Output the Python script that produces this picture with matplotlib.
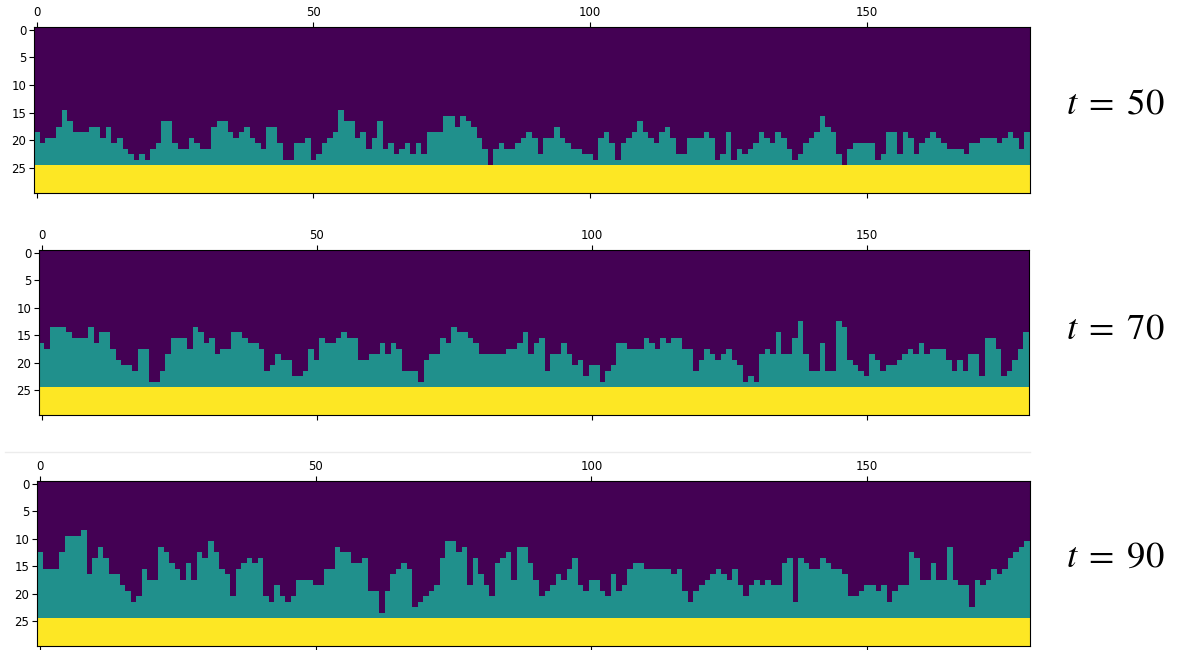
import numpy as np
import matplotlib
matplotlib.use("Agg")
import matplotlib.pyplot as plt
from matplotlib.lines import Line2D

# top row of the teal layer in each of the 180 columns (rows 25-29 are the yellow base)
top_t50 = [19,21,20,20,18,15,17,19,19,19, 18,18,20,18,21,20,22,23,24,23,
           24,22,21,17,17,21,22,22,20,21, 22,22,18,17,17,19,20,19,18,20,
           21,22,18,18,21,24,24,21,21,20, 24,23,21,20,19,15,17,17,20,19,
           22,20,17,22,21,23,22,21,23,21, 23,19,19,19,16,16,18,16,17,18,
           20,22,25,22,21,22,22,21,20,19, 20,23,20,20,18,20,21,22,22,23,
           23,24,20,19,21,24,21,20,19,17, 19,20,21,19,18,20,23,23,20,20,
           20,19,20,24,23,19,24,22,23,22, 21,19,20,21,19,20,22,24,23,21,
           20,19,16,18,19,23,25,22,21,21, 21,21,24,23,19,19,23,19,20,23,
           21,20,19,20,21,22,22,22,23,21, 21,20,20,20,21,20,19,20,22,19]

top_t70 = [17,18,14,14,14,15,16,16,16,14, 17,15,15,18,20,21,21,22,18,18,
           24,24,22,19,16,16,16,18,14,15, 17,16,19,18,18,15,15,16,17,17,
           18,22,21,19,20,20,23,23,22,18, 20,16,17,17,16,15,16,16,20,20,
           19,19,17,19,17,18,22,22,22,24, 20,19,19,16,17,14,15,15,16,17,
           19,19,19,19,19,18,18,17,15,19, 17,16,22,19,19,17,19,21,20,23,
           21,21,24,22,21,17,17,18,18,18, 16,17,18,16,17,16,16,18,18,22,
           20,18,19,20,19,18,20,21,24,23, 24,19,18,19,15,19,19,16,13,19,
           22,22,17,22,22,13,14,20,21,22, 23,19,20,22,21,21,20,19,18,19,
           17,19,18,18,18,20,22,20,22,19, 19,23,16,16,18,23,22,20,18,15]

top_t90 = [13,16,16,16,13,10,10,10,9,17, 14,12,14,17,17,19,20,22,21,16,
           18,18,12,13,15,16,18,15,18,13, 14,11,13,16,17,21,16,15,14,15,
           14,21,22,19,21,22,21,18,18,18, 19,19,16,16,12,13,13,15,15,14,
           20,20,24,20,17,16,15,16,23,22, 21,20,19,14,11,11,13,12,19,14,
           17,19,21,15,14,13,18,12,12,15, 18,21,20,19,17,18,16,14,19,20,
           18,18,20,21,17,20,19,16,15,15, 16,16,16,16,16,17,16,20,22,20,
           19,18,17,16,17,18,16,19,21,19, 18,19,18,19,19,15,14,22,14,15,
           16,16,14,15,16,16,17,21,21,20, 19,19,20,19,22,20,19,19,13,14,
           18,18,15,18,18,12,18,19,19,23, 18,19,18,16,17,16,14,13,12,11]

labels = ["50", "70", "90"]
n_rows = 30
base_row = 25

W, H = 1190, 650
fig = plt.figure(figsize=(W / 100, H / 100), dpi=100)

# faint screenshot edge above the last panel
fig.add_artist(Line2D([5 / W, 1030 / W], [1 - 452 / H, 1 - 452 / H],
                      color="#ececec", lw=1.0))

# pixel boxes (left, top, right, bottom)
boxes = [(34, 27, 1030, 193), (39, 250, 1029, 415), (37, 481, 1030, 646)]
label_y = [103, 328, 556]

for tops, lab, box, ly in zip([top_t50, top_t70, top_t90], labels, boxes, label_y):
    ncol = len(tops)
    grid = np.zeros((n_rows, ncol))
    grid[base_row:, :] = 2
    for c, t in enumerate(tops):
        grid[t:base_row, c] = 1
    l, t, r, b = box
    ax = fig.add_axes([l / W, 1 - b / H, (r - l) / W, (b - t) / H])
    ax.matshow(grid, cmap="viridis", vmin=0, vmax=2, aspect="auto",
               interpolation="nearest")
    ax.set_xticks([0, 50, 100, 150])
    ax.set_yticks([0, 5, 10, 15, 20, 25])
    ax.tick_params(labelsize=8.5, length=3.5, width=0.8, pad=2)
    for s in ax.spines.values():
        s.set_linewidth(0.8)
    fig.text(1115 / W, 1 - ly / H, r"$t\;=\;%s$" % lab, fontsize=26.5,
             ha="center", va="center", math_fontfamily="stix")

fig.savefig("out.png", dpi=100)
